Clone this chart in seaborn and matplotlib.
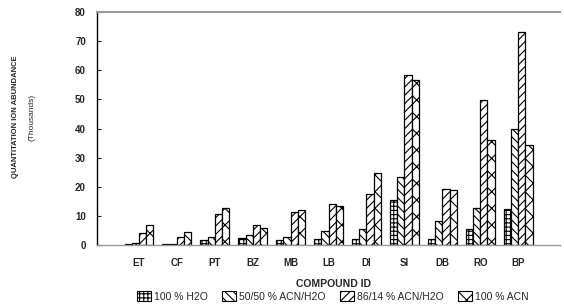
import matplotlib
matplotlib.use("Agg")
import matplotlib.pyplot as plt
import seaborn as sns
import pandas as pd
from matplotlib.patches import Patch

compounds = ["ET", "CF", "PT", "BZ", "MB", "LB", "DI", "SI", "DB", "RO", "BP"]
series = ["100 % H2O", "50/50 % ACN/H2O", "86/14 % ACN/H2O", "100 % ACN"]
h2o_100 = [0.3, 0.2, 1.7, 2.4, 1.7, 2.0, 2.0, 15.5, 2.0, 5.6, 12.3]
acn_50 = [0.8, 0.2, 2.6, 3.4, 2.9, 4.8, 5.5, 23.3, 8.3, 12.6, 39.7]
acn_86 = [4.2, 2.6, 10.7, 6.8, 11.5, 14.0, 17.5, 58.3, 19.4, 49.7, 73.2]
acn_100 = [6.9, 4.6, 12.6, 5.9, 12.1, 13.4, 24.7, 56.7, 19.0, 36.2, 34.2]
yticks = [0, 10, 20, 30, 40, 50, 60, 70, 80]

rows = []
for s, vals in zip(series, [h2o_100, acn_50, acn_86, acn_100]):
    for c, v in zip(compounds, vals):
        rows.append({"compound": c, "series": s, "value": v})
df = pd.DataFrame(rows)

sns.set_style("white")
plt.rcParams["font.family"] = ["Liberation Sans", "DejaVu Sans"]
plt.rcParams["hatch.linewidth"] = 0.8

fig = plt.figure(figsize=(5.64, 3.04), dpi=100)
ax = fig.add_axes([0.172, 0.194, 0.821, 0.7665])

order = [""] + compounds
sns.barplot(data=df, x="compound", y="value", hue="series", order=order,
            hue_order=series, palette=["white"] * 4, width=0.75,
            edgecolor="black", linewidth=0.9, ax=ax, legend=False)

hatches = ["++++", "\\\\\\\\", "////", "xx"]
for cont, h in zip(ax.containers, hatches):
    for bar in cont:
        bar.set_hatch(h)
        bar.set_edgecolor("black")

ax.set_ylim(0, 80)
ax.set_xlim(-0.1, 12.1)
ax.set_yticks(yticks)
ax.set_yticklabels([str(t) for t in yticks], fontsize=7, fontweight="bold")
ax.set_xticks(range(len(order)))
ax.set_xticklabels(order, fontsize=7, fontweight="bold")
ax.tick_params(axis="y", direction="in", length=3, width=0.8, left=True, pad=8)
ax.tick_params(axis="x", length=0, pad=9)

ax.spines["left"].set_color("black")
ax.spines["left"].set_linewidth(1.0)
ax.spines["top"].set_color("#999999")
ax.spines["top"].set_linewidth(1.5)
ax.spines["bottom"].set_color("#999999")
ax.spines["bottom"].set_linewidth(1.0)
ax.spines["right"].set_visible(False)

ax.set_xlabel("")
ax.set_ylabel("")
fig.text(0.027, 0.615, "QUANTITATION ION ABUNDANCE", rotation=90, ha="center",
         va="center", fontsize=5.5, fontweight="bold")
fig.text(0.057, 0.615, "(Thousands)", rotation=90, ha="center", va="center",
         fontsize=6)
fig.text(0.592, 0.066, "COMPOUND ID", ha="center", va="center",
         fontsize=7.5, fontweight="bold")

handles = [Patch(facecolor="white", edgecolor="black", hatch=h, linewidth=0.8)
           for h in hatches]
fig.legend(handles, series, loc="center", bbox_to_anchor=(0.59, 0.025),
           ncol=4, frameon=False, fontsize=7.5, handlelength=1.4,
           handleheight=1.0, handletextpad=0.3, columnspacing=1.3,
           borderpad=0)

fig.savefig("out.png", dpi=100)
